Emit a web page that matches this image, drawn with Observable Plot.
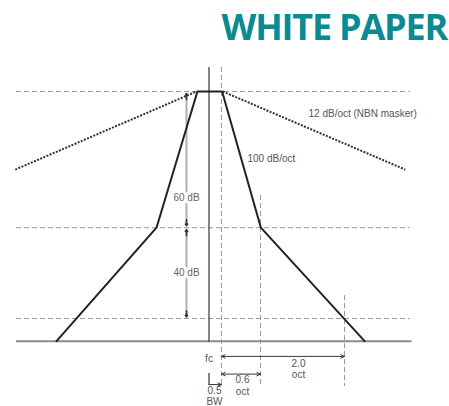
<!DOCTYPE html>
<html>
<head>
<meta charset="utf-8">
<script src="https://cdn.jsdelivr.net/npm/d3@7"></script>
<script src="https://cdn.jsdelivr.net/npm/@observablehq/plot@0.6"></script>
<style>
  html, body { margin: 0; padding: 0; background: #fff; }
  #wrap { position: relative; width: 449px; height: 406px; }
  #hdr { position: absolute; right: 2px; top: 3px; font-family: "Open Sans", sans-serif; font-weight: 700; font-size: 36px; color: #0b8a92; letter-spacing: -1.2px; line-height: 48px; white-space: nowrap; }
  #chart { position: absolute; left: 0; top: 0; }
</style>
</head>
<body>
<div id="wrap">
  <div id="chart"></div>
  <div id="hdr">WHITE PAPER</div>
</div>
<script>
// Filter response (octaves re fc, dB)
const filterOct = [-2.44, -0.84, -0.185, 0.21, 0.83, 2.49];
const filterDb  = [-110, -60, 0, 0, -60, -110];

// NBN masker skirts (12 dB/oct)
const maskerLeftOct  = [-3.1, -0.2];
const maskerLeftDb   = [-34.4, 0];
const maskerRightOct = [0.22, 3.14];
const maskerRightDb  = [0, -34.4];

// Dashed reference levels (dB) and baseline
const refLevels = [0, -60, -100];
const refSpan = [-3.08, 3.22];
const baseLevel = -110;
const baseSpan = [-3.08, 3.25];

// fc line segments
const fcOct = 0;
const fcSegTop = [10.6, -124.2];
const fcSegBottom = [-110.6, -129.5];

// Dashed vertical markers
const vOct = [0.2, 0.824, 2.168];
const vTop = [10.6, -45.8, -89.9];
const vBottom = [-129.5, -130, -130];

// dB span arrows (light shaft, dark heads)
const dbArrowOct = -0.36;
const dbArrowFrom = [-0.9, -60.9];
const dbArrowTo = [-59.1, -99.3];
const dbLabels = ["60 dB", "40 dB"];
const dbLabelY = [-46.7, -79.7];

// Octave span arrows
const octArrowY = [-116.7, -124.5];
const octArrowFrom = [0.2, 0.2];
const octArrowTo = [2.168, 0.824];
const bwArrow = {y: -129.1, from: 0, to: 0.2};

// Text labels
const startLabels = [
  {text: "12 dB/oct (NBN masker)", x: 1.592, y: -9.7},
  {text: "100 dB/oct", x: 0.616, y: -29.5}
];
const midLabels = [
  {text: "fc", x: 0, y: -117.6},
  {text: "2.0\noct", x: 1.432, y: -122.2},
  {text: "0.6\noct", x: 0.536, y: -129.5},
  {text: "0.5\nBW", x: 0.088, y: -134.0}
];

const filterPts = filterOct.map((x, i) => ({x, y: filterDb[i]}));
const maskL = maskerLeftOct.map((x, i) => ({x, y: maskerLeftDb[i]}));
const maskR = maskerRightOct.map((x, i) => ({x, y: maskerRightDb[i]}));
const vLines = vOct.map((x, i) => ({x, y1: vTop[i], y2: vBottom[i]}));
const fcSegs = [{x: fcOct, y1: fcSegTop[0], y2: fcSegBottom[0]}, {x: fcOct, y1: fcSegTop[1], y2: fcSegBottom[1]}];

const dbShafts = dbArrowFrom.map((a, i) => ({x: dbArrowOct, y1: a, y2: dbArrowTo[i]}));
const dbHeads = [];
dbArrowFrom.forEach((a, i) => {
  const b = dbArrowTo[i];
  dbHeads.push({x1: dbArrowOct, y1: a - 2.6, x2: dbArrowOct, y2: a});
  dbHeads.push({x1: dbArrowOct, y1: b + 2.6, x2: dbArrowOct, y2: b});
});

const octArrows = [];
octArrowY.forEach((y, i) => {
  const a = octArrowFrom[i], b = octArrowTo[i], m = (a + b) / 2;
  octArrows.push({x1: m, y1: y, x2: a, y2: y});
  octArrows.push({x1: m, y1: y, x2: b, y2: y});
});
octArrows.push({x1: bwArrow.from, y1: bwArrow.y, x2: bwArrow.to, y2: bwArrow.y});

const font = "Liberation Sans, Arial, sans-serif";

const plot = Plot.plot({
  width: 449,
  height: 406,
  margin: 0,
  style: {background: "transparent", fontFamily: font},
  x: {type: "linear", domain: [-3.336, 3.848], range: [0, 449], axis: null},
  y: {type: "linear", domain: [-138.77, 40.09], range: [406, 0], axis: null},
  marks: [
    Plot.ruleY(refLevels, {x1: refSpan[0], x2: refSpan[1], stroke: "#9a9a9a", strokeWidth: 1, strokeDasharray: "5,3"}),
    Plot.ruleX(vLines, {x: "x", y1: "y1", y2: "y2", stroke: "#9a9a9a", strokeWidth: 1, strokeDasharray: "5,3"}),
    Plot.ruleY([baseLevel], {x1: baseSpan[0], x2: baseSpan[1], stroke: "#8a8a8a", strokeWidth: 2}),
    Plot.ruleX(fcSegs, {x: "x", y1: "y1", y2: "y2", stroke: "#444", strokeWidth: 1.3}),
    Plot.ruleX(dbShafts, {x: "x", y1: "y1", y2: "y2", stroke: "#b0b0b0", strokeWidth: 2}),
    Plot.arrow(dbHeads, {x1: "x1", y1: "y1", x2: "x2", y2: "y2", stroke: "#333", strokeWidth: 1.6, headLength: 5, headAngle: 70}),
    Plot.arrow(octArrows, {x1: "x1", y1: "y1", x2: "x2", y2: "y2", stroke: "#3a3a3a", strokeWidth: 1, headLength: 6, headAngle: 50}),
    Plot.line(maskL, {x: "x", y: "y", stroke: "#333", strokeWidth: 2, strokeDasharray: "2,1.4", strokeLinecap: "butt"}),
    Plot.line(maskR, {x: "x", y: "y", stroke: "#333", strokeWidth: 2, strokeDasharray: "2,1.4", strokeLinecap: "butt"}),
    Plot.line(filterPts, {x: "x", y: "y", stroke: "#222", strokeWidth: 2, strokeLinejoin: "miter"}),
    Plot.text(dbLabels, {x: dbArrowOct, y: (d, i) => dbLabelY[i], text: d => d, fill: "#666", stroke: "white", strokeWidth: 6, fontSize: 10, fontFamily: font}),
    Plot.text(startLabels, {x: "x", y: "y", text: "text", textAnchor: "start", fill: "#555", fontSize: 10, fontFamily: font}),
    Plot.text(midLabels, {x: "x", y: "y", text: "text", textAnchor: "middle", fill: "#555", fontSize: 10, lineHeight: 1.15, fontFamily: font})
  ]
});
document.getElementById("chart").appendChild(plot);
</script>
</body>
</html>
